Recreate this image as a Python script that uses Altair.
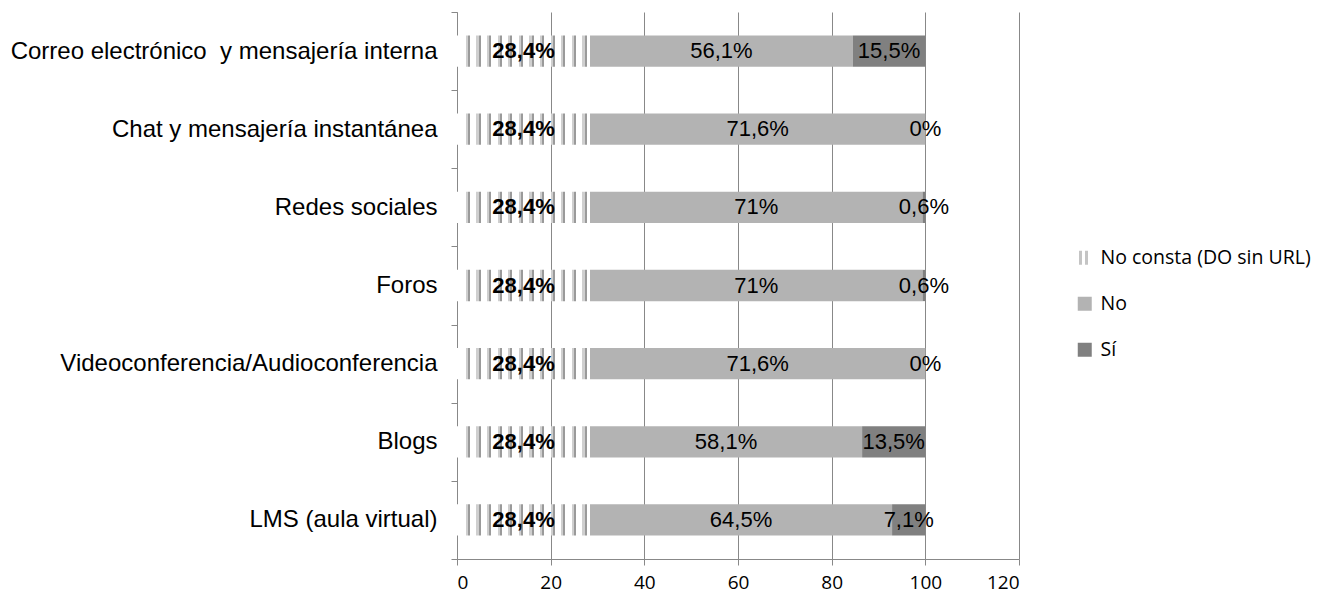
import altair as alt
import pandas as pd

categorias = [
    "Correo electrónico\u00a0 y mensajería interna",
    "Chat y mensajería instantánea",
    "Redes sociales",
    "Foros",
    "Videoconferencia/Audioconferencia",
    "Blogs",
    "LMS (aula virtual)",
]
series = ["No consta (DO sin URL)", "No", "Sí"]
no_consta = [28.4, 28.4, 28.4, 28.4, 28.4, 28.4, 28.4]
no = [56.1, 71.6, 71.0, 71.0, 71.6, 58.1, 64.5]
si = [15.5, 0.0, 0.6, 0.6, 0.0, 13.5, 7.1]
x_ticks = [0, 20, 40, 60, 80, 100, 120]


def etiqueta(v):
    return f"{v:g}".replace(".", ",") + "%"


rows = []
for i, c in enumerate(categorias):
    for j, (s, vals) in enumerate(zip(series, [no_consta, no, si])):
        rows.append({"cat": c, "serie": s, "valor": vals[i], "orden": j,
                     "label": etiqueta(vals[i])})
df = pd.DataFrame(rows)

# striped fill (vertical stripes) for "No consta"
W = 133.0
stops = [{"offset": 0, "color": "#ffffff"}]
for k in range(12):
    s = 8.7 + 10.6 * k
    a, b, c2 = s / W, (s + 2.3) / W, (s + 4.3) / W
    stops += [
        {"offset": a, "color": "#ffffff"},
        {"offset": a, "color": "#cfcfcf"},
        {"offset": b, "color": "#cfcfcf"},
        {"offset": b, "color": "#9a9a9a"},
        {"offset": c2, "color": "#9a9a9a"},
        {"offset": c2, "color": "#ffffff"},
    ]
stops.append({"offset": 1, "color": "#ffffff"})
stripe = {"gradient": "linear", "x1": 0, "x2": 1, "y1": 0, "y2": 0, "stops": stops}

legend_grad = ("{gradient:'linear',x1:0,x2:1,y1:0,y2:0,stops:["
               "{offset:0,color:'#ffffff'},{offset:0.12,color:'#ffffff'},"
               "{offset:0.12,color:'#c4c4c4'},{offset:0.32,color:'#c4c4c4'},"
               "{offset:0.32,color:'#ffffff'},{offset:0.55,color:'#ffffff'},"
               "{offset:0.55,color:'#c4c4c4'},{offset:0.75,color:'#c4c4c4'},"
               "{offset:0.75,color:'#ffffff'},{offset:1,color:'#ffffff'}]}")


def build(first_color):
    y_enc = alt.Y(
        "cat:N", sort=categorias, title=None,
        scale=alt.Scale(paddingInner=0, paddingOuter=0),
        axis=alt.Axis(tickBand="extent", labelFont="Liberation Sans", labelFontSize=24,
                      labelColor="black", domainColor="#888888", tickColor="#888888",
                      tickSize=6, labelPadding=14, grid=False, labelLimit=600),
    )
    leg = alt.Legend(title=None, orient="none", legendX=618, legendY=236,
                     symbolType="square", symbolSize=196,
                     symbolStrokeWidth=0, labelFont="Open Sans",
                     labelFontSize=19.5, labelColor="black",
                     rowPadding=25, labelOffset=6, padding=0, labelLimit=400)

    base = alt.Chart(df)

    bars = base.mark_bar(height={"band": 0.4}).encode(
        y=y_enc,
        x=alt.X("valor:Q", stack="zero", title=None,
                scale=alt.Scale(domain=[0, 120], nice=False),
                axis=alt.Axis(values=x_ticks, grid=True, gridColor="#888888",
                              domainColor="#888888", tickColor="#888888", tickSize=6,
                              labelFont="Open Sans", labelFontSize=19, labelColor="black",
                              labelPadding=8)),
        color=alt.condition(
            alt.datum.serie == "No consta (DO sin URL)",
            alt.value(stripe),
            alt.Color("serie:N",
                      scale=alt.Scale(domain=series,
                                      range=[first_color, "#b3b3b3", "#808080"]),
                      legend=leg),
        ),
        order=alt.Order("orden:Q"),
    )

    stacked = base.transform_stack(
        stack="valor", groupby=["cat"], as_=["x0", "x1"],
        sort=[alt.SortField("orden", order="ascending")],
    ).transform_calculate(mid="(datum.x0 + datum.x1) / 2")

    txt_bold = stacked.transform_filter(alt.datum.orden == 0).mark_text(
        font="Liberation Sans", fontSize=22, fontWeight="bold", color="black"
    ).encode(x="mid:Q", y=alt.Y("cat:N", sort=categorias), text="label:N")

    txt = stacked.transform_filter(alt.datum.orden > 0).mark_text(
        font="Liberation Sans", fontSize=22, color="black"
    ).encode(x="mid:Q", y=alt.Y("cat:N", sort=categorias), text="label:N")

    return alt.layer(bars, txt_bold, txt).properties(
        width=562, height=547,
        autosize=alt.AutoSizeParams(type="none"),
        padding={"left": 449, "top": 4, "right": 299, "bottom": 34},
    ).configure_view(strokeWidth=0)


chart = None
for first in [alt.ExprRef(legend_grad), "#d0d0d0"]:
    try:
        chart = build(first)
        chart.to_dict()
        break
    except Exception:
        chart = None
        continue

chart.save("out.html", embed_options={"renderer": "svg", "actions": False})
